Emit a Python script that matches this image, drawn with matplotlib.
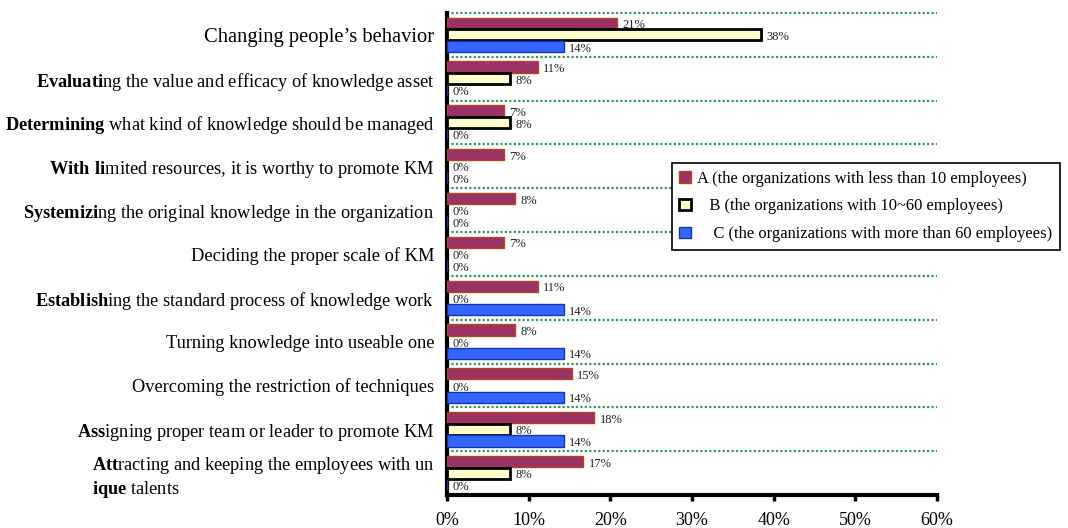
import matplotlib
matplotlib.use('Agg')
import matplotlib.pyplot as plt
import numpy as np
from matplotlib.patches import Patch

plt.rcParams['font.family'] = 'Liberation Serif'
plt.rcParams['mathtext.fontset'] = 'custom'
plt.rcParams['mathtext.rm'] = 'Liberation Serif'
plt.rcParams['mathtext.bf'] = 'Liberation Serif:bold'

# categories, top to bottom (bold prefixes as in the original figure)
categories = [
    "Changing people\u2019s behavior",
    r"$\mathbf{Evaluati}$ng the value and efficacy of knowledge asset",
    r"$\mathbf{Determining}$ what kind of knowledge should be managed",
    r"$\mathbf{With\ li}$mited resources, it is worthy to promote KM",
    r"$\mathbf{Systemizi}$ng the original knowledge in the organization",
    "Deciding the proper scale of KM",
    r"$\mathbf{Establish}$ing the standard process of knowledge work",
    "Turning knowledge into useable one",
    "Overcoming the restriction of techniques",
    r"$\mathbf{Ass}$igning proper team or leader to promote KM",
    "$\\mathbf{Att}$racting and keeping the employees with un\n$\\mathbf{ique}$ talents",
]

# percentages
group_a = [20.83, 11.11, 6.94, 6.94, 8.33, 6.94, 11.11, 8.33, 15.28, 18.06, 16.67]
group_b = [38.46, 7.69, 7.69, 0, 0, 0, 0, 0, 0, 7.69, 7.69]
group_c = [14.29, 0, 0, 0, 0, 0, 14.29, 14.29, 14.29, 14.29, 0]

legend_labels = [
    "A (the organizations with less than 10 employees)",
    "   B (the organizations with 10~60 employees)",
    "    C (the organizations with more than 60 employees)",
]

fig = plt.figure(figsize=(10.68, 5.28), dpi=100)
ax = fig.add_axes([0.4185, 0.0625, 0.4588, 0.913])

y = np.arange(len(categories))
h = 0.255
step = 0.266

series = [
    (group_a, -step, '#993366', '#B8431E', 1.0),
    (group_b, 0, '#FFFFCC', 'black', 2.0),
    (group_c, step, '#3366FF', '#1A33B3', 1.0),
]

for vals, off, fc, ec, lw in series:
    ax.barh(y + off, vals, height=h, color=fc, edgecolor=ec, linewidth=lw, zorder=3)
    for yi, v in zip(y, vals):
        ax.annotate(f"{v:.0f}%", xy=(v, yi + off), xytext=(4, -1.5),
                    textcoords='offset points', ha='left', va='center',
                    fontsize=9, color='#222222', zorder=4)

# green dotted separators
for b in np.arange(-0.5, len(categories) - 1, 1.0):
    ax.axhline(b, color='#2E9960', linestyle=(0, (1, 1)), linewidth=1.6,
               zorder=2, clip_on=False)

ax.set_xlim(0, 60)
ax.set_ylim(len(categories) - 0.5, -0.5)
ax.set_xticks(np.arange(0, 61, 10))
ax.set_xticklabels([f"{t}%" for t in range(0, 61, 10)], fontsize=13)
ax.set_yticks(y)
ax.set_yticklabels(categories, fontsize=13.2)
ax.get_yticklabels()[0].set_fontsize(14.8)
ax.get_yticklabels()[-1].set_multialignment('left')
ax.tick_params(axis='y', length=0, pad=9)
ax.tick_params(axis='x', direction='out', length=4, width=2.5, pad=8)

for s in ['top', 'right']:
    ax.spines[s].set_visible(False)
for s in ['left', 'bottom']:
    ax.spines[s].set_linewidth(3)

handles = [Patch(facecolor=fc, edgecolor=ec, linewidth=lw) for _, _, fc, ec, lw in series]
leg = fig.legend(handles, legend_labels, loc='upper left',
                 bbox_to_anchor=(0.629, 0.691), bbox_transform=fig.transFigure,
                 fontsize=11.9, frameon=True, fancybox=False, framealpha=1,
                 edgecolor='black', borderaxespad=0, handlelength=0.7,
                 handleheight=0.7, labelspacing=0.72, handletextpad=0.4,
                 borderpad=0.45)
leg.get_frame().set_linewidth(1.2)

plt.savefig('out.png', dpi=100)
